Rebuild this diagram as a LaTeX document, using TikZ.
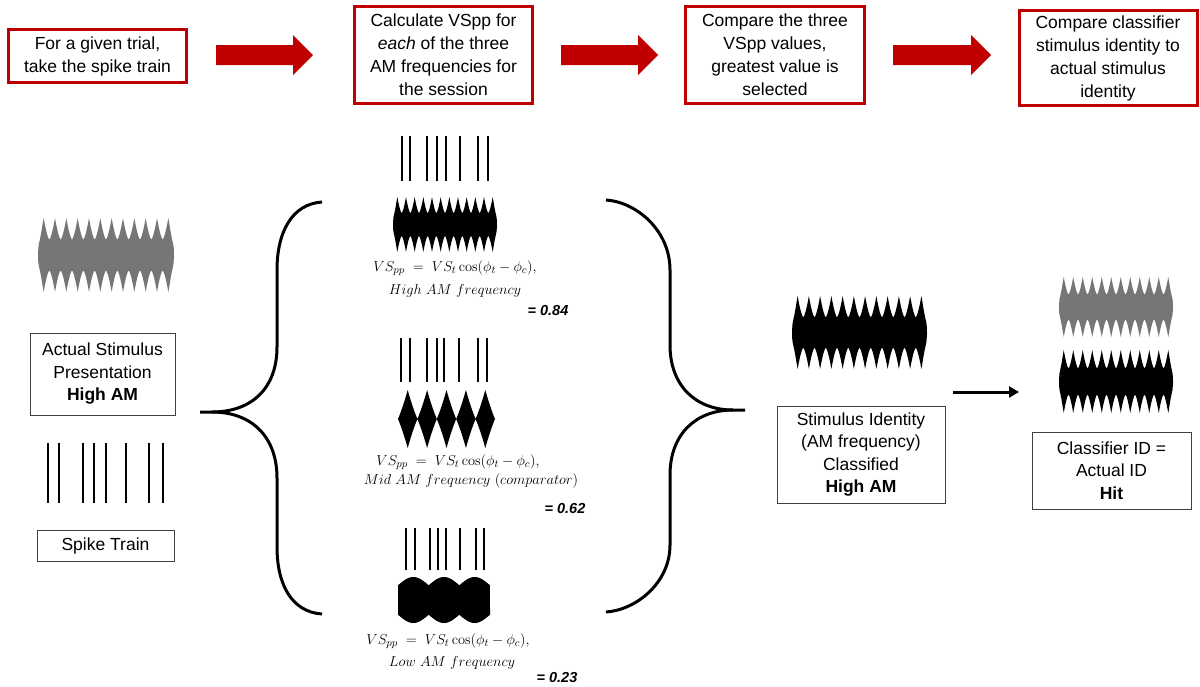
\documentclass[tikz,border=0pt]{standalone}
\usepackage[no-math]{fontspec}
\setmainfont{Liberation Sans}
\usetikzlibrary{arrows.meta}
\definecolor{darkred}{RGB}{192,0,0}
\definecolor{wavegray}{RGB}{118,118,118}
\definecolor{boxline}{RGB}{64,64,64}
\tikzset{
  redbox/.style={draw=darkred, line width=3pt, fill=white, inner sep=0pt, align=center, font=\fontsize{17.5}{23}\selectfont},
  greybox/.style={draw=boxline, line width=1pt, fill=white, inner sep=0pt, align=center, font=\fontsize{17.5}{22.5}\selectfont},
  formula/.style={inner sep=0pt, font=\fontsize{15.5}{18}\selectfont},
  value/.style={inner sep=0pt, font=\fontsize{14.5}{17}\selectfont\bfseries\itshape},
  spike/.style={line width=2pt},
  blockarrow/.style={fill=darkred},
  brace/.style={line width=3pt},
  conn/.style={line width=3pt, -{Triangle[length=10pt,width=11pt]}},
}
\newcommand\amwave[6]{%
  \fill[#6] plot[domain=0:1,samples=241,variable=\t] ({#1+(#2-#1)*\t},{#3-#4*#5(\t)})
    -- plot[domain=1:0,samples=241,variable=\t] ({#1+(#2-#1)*\t},{#3+#4*#5(\t)}) -- cycle;}
\newcommand\redarrow[2]{%
  \fill[blockarrow] (#1,45) -- ({#2-20},45) -- ({#2-20},35) -- (#2,55) -- ({#2-20},75) -- ({#2-20},65) -- (#1,65) -- cycle;}
\newcommand\spikes[3]{%
  \foreach \p in {#1}{\draw[spike] (\p,#2) -- (\p,#3);}}
\begin{document}
\begin{tikzpicture}[x=1pt,y=-1pt,
  declare function={
    tria(\t)=1-abs(2*mod(12*\t,1)-1);
    env(\t)=min(1,sqrt(sqrt(min(\t,1-\t)/0.035+0.0001)));
    hf(\t)=(0.42+0.58*tria(\t)*sqrt(tria(\t)))*env(\t);
    trib(\t)=1-abs(2*mod(5*\t,1)-1);
    mf(\t)=0.8*trib(\t)+0.2*trib(\t)*trib(\t);
    lf(\t)=0.64+0.36*abs(sin(540*\t));
  }]
\useasboundingbox (0,0) rectangle (1200,686);
\fill[white] (0,0) rectangle (1200,686);

% ---- top row ----
\node[redbox, minimum width=178pt, minimum height=53pt] (b1) at (97.5,56) {For a given trial,\\take the spike train};
\node[redbox, minimum width=178pt, minimum height=97pt] (b2) at (443.5,55) {Calculate VSpp for\\\textit{each} of the three\\AM frequencies for\\the session};
\node[redbox, minimum width=179pt, minimum height=97pt] (b3) at (775,55) {Compare the three\\VSpp values,\\greatest value is\\selected};
\node[redbox, minimum width=178pt, minimum height=95pt] (b4) at (1108,58) {Compare classifier\\stimulus identity to\\actual stimulus\\identity};
\redarrow{216}{313}
\redarrow{561}{658}
\redarrow{893}{991}

% ---- left column ----
\amwave{38}{174}{255}{37}{hf}{wavegray}
\node[greybox, minimum width=145pt, minimum height=82pt] (act) at (102.5,374) {Actual Stimulus\\Presentation\\\textbf{High AM}};
\spikes{48,59,83,94,106,126,149,163}{443}{503}
\node[greybox, minimum width=137pt, minimum height=31pt] (st) at (105.5,545.5) {Spike Train};

% ---- braces ----
\coordinate (lt) at (200,412);
\draw[brace] (322,202) .. controls (292,204) and (277,232) .. (277,270) -- (277,347)
  .. controls (277,388) and (252,412) .. (212,412) -- (lt);
\draw[brace] (212,412) .. controls (252,412) and (277,437) .. (277,478) -- (277,547)
  .. controls (277,585) and (292,612) .. (322,614);
\coordinate (rt) at (745,410);
\draw[brace] (606,200) .. controls (636,202) and (670,230) .. (670,270) -- (670,345)
  .. controls (670,386) and (696,410) .. (733,410) -- (rt);
\draw[brace] (733,410) .. controls (696,410) and (670,434) .. (670,475) -- (670,545)
  .. controls (670,583) and (636,610) .. (606,612);

% ---- centre column ----
\spikes{402,410,427,437,446,460,478,488}{136}{181}
\amwave{393}{497}{224.5}{27.5}{hf}{black}
\node[formula] (f1a) at (455,268) {$VS_{pp}\;=\;VS_t\cos(\phi_t-\phi_c),$};
\node[formula] (f1b) at (455,291) {$High\ AM\ frequency$};
\node[value] (v1) at (548,311) {= 0.84};

\spikes{401,410,427,437,444,459,478,487}{338}{382}
\amwave{398}{495}{419}{29}{mf}{black}
\node[formula] (f2a) at (458,462) {$VS_{pp}\;=\;VS_t\cos(\phi_t-\phi_c),$};
\node[formula] (f2b) at (471,481) {$Mid\ AM\ frequency\ (comparator)$};
\node[value] (v2) at (565,508) {= 0.62};

\spikes{406,415,430,438,446,460,476,484}{528}{570}
\amwave{398}{490}{600}{23}{lf}{black}
\node[formula] (f3a) at (448,641) {$VS_{pp}\;=\;VS_t\cos(\phi_t-\phi_c),$};
\node[formula] (f3b) at (452,663) {$Low\ AM\ frequency$};
\node[value] (v3) at (557,677) {= 0.23};

% ---- right side ----
\amwave{792}{927}{332.5}{36.5}{hf}{black}
\node[greybox, minimum width=168pt, minimum height=97pt] (cls) at (861,454.5) {Stimulus Identity\\(AM frequency)\\Classified\\\textbf{High AM}};
\coordinate (a1) at (953,392);
\coordinate (a2) at (1019,392);
\draw[conn] (a1) -- (a2);
\amwave{1059}{1173}{307}{30}{hf}{wavegray}
\amwave{1059}{1173}{381.5}{31.5}{hf}{black}
\node[greybox, minimum width=159pt, minimum height=77pt] (hit) at (1111.5,470.5) {Classifier ID =\\Actual ID\\\textbf{Hit}};
\end{tikzpicture}
\end{document}
